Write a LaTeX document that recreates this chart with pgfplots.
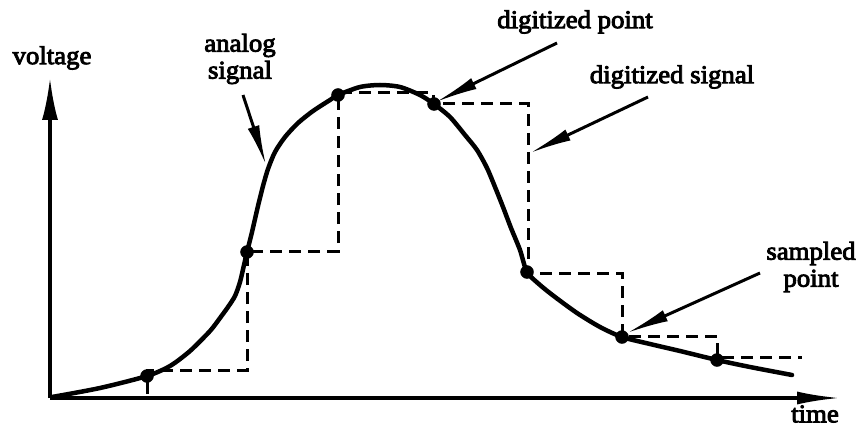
\documentclass[border=0pt]{standalone}
\usepackage{fontspec}
\setmainfont{Liberation Serif}
\newfontfamily\lblfont{Liberation Serif}[FakeBold=3.5, FakeStretch=1.05]
\usepackage{pgfplots}
\pgfplotsset{compat=1.18}
\usetikzlibrary{arrows.meta}
\tikzset{lbl/.style={font=\lblfont\fontsize{25.5}{27}\selectfont, inner sep=0pt}}
\begin{document}
\begin{tikzpicture}
\begin{axis}[
  scale only axis, width=866pt, height=429pt,
  xmin=-50, xmax=816, ymin=-31, ymax=398,
  axis lines=none, clip=false,
]
% analog signal
\addplot[black, line width=4.5pt, smooth, tension=0.45, line cap=round] coordinates {
(2,1) (50,10) (97,22) (120,32) (140,47) (160,67) (170,80) (178,91) (185,102)
(190,116) (194,133) (197,146) (202,166) (208,192) (213,212) (218,229) (225,246)
(235,261) (248,275) (263,287) (280,298) (288,303) (310,311) (330,313) (350,311)
(370,303) (384,294) (400,281) (415,263) (427,248) (437,230) (445,211) (453,191)
(461,170) (470,148) (477,126) (490,113) (505,101) (527,85) (550,71) (572,61)
(600,54) (630,47) (667,38) (700,31) (742,23)
};
% digitized signal
\addplot[black, line width=3pt, dash pattern=on 12pt off 7pt, const plot] coordinates {
(5,1) (97,28) (197,147) (288,305) (383,294) (478,125) (572,62) (667,41) (752,41)
};
% sampled points
\addplot[only marks, mark=*, mark size=6.5pt, black] coordinates {
(97,22) (197,146) (288,303) (384,294) (477,126) (572,61) (667,38)
};
% axes
\draw[line width=3.2pt, -{Latex[length=42pt, width=16pt]}] (axis cs:0,0) -- (axis cs:0,320);
\draw[line width=3.2pt, -{Latex[length=43pt, width=13pt]}] (axis cs:0,0) -- (axis cs:790,0);
% annotation arrows
\draw[line width=3pt, -{Latex[length=40pt, width=12pt]}] (axis cs:193,303) -- (axis cs:216,233);
\draw[line width=3pt, -{Latex[length=42pt, width=12pt]}] (axis cs:507,355) -- (axis cs:386,296);
\draw[line width=3pt, -{Latex[length=42pt, width=12pt]}] (axis cs:598,301) -- (axis cs:480,245);
\draw[line width=3pt, -{Latex[length=42pt, width=12pt]}] (axis cs:710,125) -- (axis cs:577,65);
% labels
\node[lbl] at (axis cs:2,340) {voltage};
\node[lbl, align=center] at (axis cs:190,339) {analog\\signal};
\node[lbl] at (axis cs:525,376) {digitized point};
\node[lbl] at (axis cs:622,321) {digitized signal};
\node[lbl, align=center] at (axis cs:761,131) {sampled\\point};
\node[lbl] at (axis cs:765,-16) {time};
\end{axis}
\pgfresetboundingbox
\path (current axis.south west) rectangle (current axis.north east);
\end{tikzpicture}
\end{document}
